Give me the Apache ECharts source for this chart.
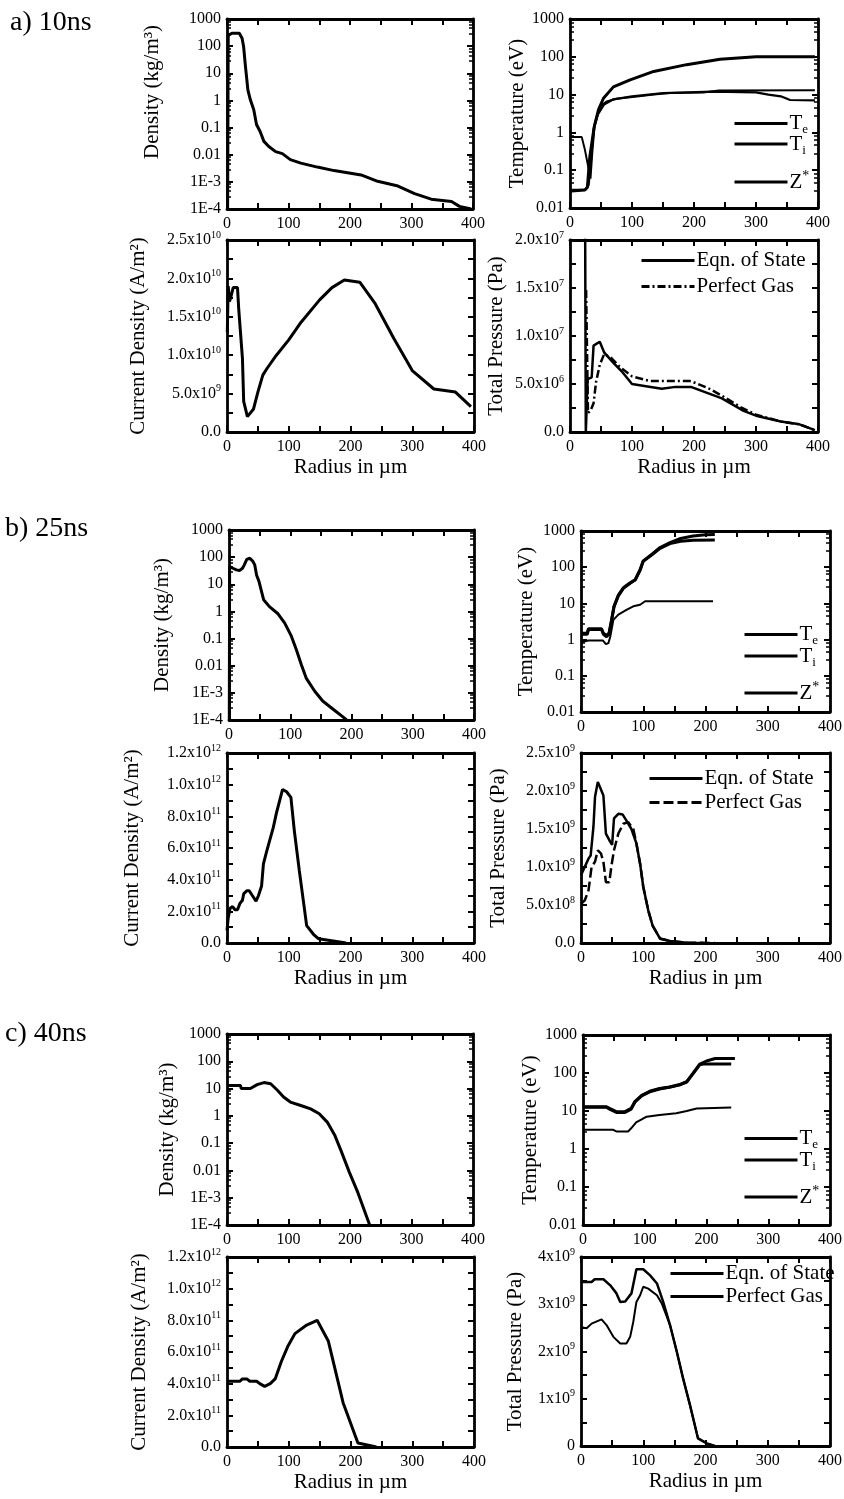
<!DOCTYPE html>
<html><head><meta charset="utf-8">
<script src="https://cdn.jsdelivr.net/npm/echarts@6/dist/echarts.min.js"></script>
<style>html,body{margin:0;padding:0;background:#fff}#c{width:844px;height:1499px}</style>
</head><body><div id="c"></div>
<script>
// ---------- tick labels ----------
const radiusTicks = ['0','100','200','300','400'];
const densityTicks = ['1E-4','1E-3','0.01','0.1','1','10','100','1000'];
const tempTicks = ['0.01','0.1','1','10','100','1000'];
const currentTicksA = ['0.0','5.0x10^9','1.0x10^10','1.5x10^10','2.0x10^10','2.5x10^10'];
const pressureTicksA = ['0.0','5.0x10^6','1.0x10^7','1.5x10^7','2.0x10^7'];
const currentTicksB = ['0.0','2.0x10^11','4.0x10^11','6.0x10^11','8.0x10^11','1.0x10^12','1.2x10^12'];
const pressureTicksB = ['0.0','5.0x10^8','1.0x10^9','1.5x10^9','2.0x10^9','2.5x10^9'];
const currentTicksC = ['0.0','2.0x10^11','4.0x10^11','6.0x10^11','8.0x10^11','1.0x10^12','1.2x10^12'];
const pressureTicksC = ['0','1x10^9','2x10^9','3x10^9','4x10^9'];
const panelLabels = ['a) 10ns','b) 25ns','c) 40ns'];

// ---------- data: [radius (um), value] ----------
// a) 10 ns
const densityA = [[1,1e-4],[2,250],[8,300],[20,300],[24.5,195],[27,97],[30,18],[34,2.4],[38,1.05],[43.5,0.45],[48,0.13],[54,0.07],[60,0.031],[68,0.02],[79,0.013],[90,0.011],[103,0.0066],[120,0.0049],[147,0.0035],[174,0.0026],[218,0.0018],[245,0.00105],[278,7e-4],[305,3.7e-4],[332,2.3e-4],[365,1.9e-4],[378,1.25e-4],[397,1e-4]];
const tempTeA = [[2,0.028],[24,0.03],[28,0.035],[32,0.23],[39,1.4],[46,4],[54,8],[70,16],[97,24.5],[135,41],[188,62],[242,86],[300,100],[395,100]];
const tempTiA = [[2,0.03],[24,0.03],[30,0.04],[33,0.12],[38,1.2],[45,3],[55,5.5],[70,7.5],[100,9],[150,11],[230,12],[300,11.5],[320,10],[340,9],[355,7.2],[395,7]];
const tempZA = [[2,0.75],[19,0.75],[24,0.35],[30,0.11],[33,0.06],[36,0.3],[40,1.7],[48,4.8],[59,6.6],[75,7.8],[108,8.9],[135,10],[161,11],[215,11.3],[240,12.8],[395,13]];
const currentA = [[0.5,1.3e10],[2,1.9e10],[4,1.7e10],[6,1.75e10],[9,1.75e10],[10,1.88e10],[17,1.88e10],[19,1.6e10],[25,0.96e10],[27,0.4e10],[30,0.3e10],[33,0.2e10],[36,0.18e10],[43,0.3e10],[50,0.52e10],[58,0.74e10],[65,0.83e10],[80,1.0e10],[100,1.2e10],[120,1.43e10],[150,1.72e10],[170,1.88e10],[190,1.98e10],[215,1.95e10],[240,1.67e10],[270,1.22e10],[300,0.8e10],[335,0.56e10],[370,0.52e10],[395,0.33e10]];
const pressEosA = [[20,3e7],[24,3e7],[25.5,0],[27.5,0],[28.5,5.5e6],[35,5.7e6],[38,9.0e6],[48,9.4e6],[55,8.3e6],[70,7.2e6],[85,6.2e6],[100,5.0e6],[120,4.8e6],[148,4.5e6],[170,4.7e6],[195,4.7e6],[220,4.1e6],[245,3.5e6],[280,2.2e6],[300,1.7e6],[340,1.1e6],[370,8e5],[395,2e5]];
const pressGasA = [[26,1.48e7],[27.5,1.48e7],[29,2.0e6],[33,2.2e6],[38,3e6],[42,5.2e6],[48,7e6],[55,8.1e6],[65,7.8e6],[80,6.8e6],[100,5.8e6],[130,5.3e6],[195,5.3e6],[225,4.5e6],[250,3.6e6],[275,2.6e6],[300,1.8e6],[340,1.1e6],[370,8e5],[395,2e5]];
// b) 25 ns
const densityB = [[0.5,1e-4],[1,45],[6.5,39],[12,34],[17,32],[22,39],[25,52],[29,83],[34,91],[39,70],[42,52],[45,22],[49,12.6],[56.5,2.7],[66,1.5],[80,0.82],[91,0.37],[102,0.12],[110,0.039],[118,0.011],[126,0.0035],[140,0.00115],[153,5e-4],[170,2.5e-4],[186,1.3e-4],[192,1e-4]];
const tempTeB = [[1,1.5],[10,1.5],[12,2.0],[33,2.0],[36,1.5],[41,1.3],[45,1.5],[49,3.5],[53,8.3],[60,17],[68,27],[79,37],[87,45],[95,87],[100,150],[114,230],[127,350],[143,480],[160,620],[180,730],[200,790],[215,800]];
const tempTiB = [[1,1.4],[10,1.4],[12,1.9],[33,1.9],[36,1.4],[41,1.2],[45,1.4],[49,3.2],[53,8],[60,16],[68,26],[79,36],[87,44],[95,82],[100,145],[114,220],[127,330],[143,450],[160,520],[180,555],[215,560]];
const tempZB = [[1,0.85],[12,0.95],[35,0.95],[40,0.75],[44,0.8],[47,1.2],[52,3.5],[60,4.9],[73,6.6],[84,8.3],[95,9.2],[103,11.5],[212,11.5]];
const currentB = [[0,0.08e12],[2,0.16e12],[5,0.22e12],[9,0.23e12],[13,0.21e12],[17,0.21e12],[21,0.25e12],[25,0.27e12],[27,0.31e12],[32,0.33e12],[36,0.33e12],[41,0.30e12],[47,0.265e12],[51,0.30e12],[56,0.36e12],[59,0.5e12],[64,0.575e12],[75,0.73e12],[80,0.82e12],[90,0.97e12],[96.5,0.955e12],[103.5,0.92e12],[109,0.71e12],[117,0.46e12],[129,0.11e12],[140,0.055e12],[148,0.027e12],[172,0.013e12],[193,0]];
const pressEosB = [[0,0.89e9],[6,1.0e9],[12,1.11e9],[15.5,1.15e9],[20,1.53e9],[22.5,1.92e9],[27,2.12e9],[33,2.0e9],[36,1.94e9],[40,1.44e9],[47,1.33e9],[50,1.29e9],[53,1.64e9],[60,1.70e9],[67,1.69e9],[73,1.61e9],[81,1.50e9],[89,1.31e9],[95,1.04e9],[100,0.74e9],[108,0.43e9],[115,0.23e9],[127,0.057e9],[143,0.026e9],[170,0.004e9],[197,0]];
const pressGasB = [[1,0.52e9],[6,0.56e9],[12,0.69e9],[17,1.0e9],[22.5,1.07e9],[27,1.22e9],[32,1.18e9],[36,1.07e9],[40,0.80e9],[45.5,0.80e9],[49,1.02e9],[53,1.22e9],[60,1.44e9],[68,1.57e9],[76,1.59e9],[84,1.5e9],[89,1.31e9],[95,1.04e9],[100,0.74e9],[108,0.43e9],[115,0.23e9],[127,0.06e9],[143,0.027e9],[170,0.004e9],[215,0]];
// c) 40 ns
const densityC = [[1,13],[22,13],[23,10],[38,10],[49,14],[60,16.6],[71,15],[82,8.7],[92,4.9],[103,3.2],[120,2.4],[136,1.8],[150,1.2],[163,0.59],[175,0.2],[186,0.049],[199,0.0085],[213,0.0015],[232,1e-4]];
const tempTeC = [[1,12.9],[38,12.9],[43,11.7],[54,9.6],[68,9.6],[78,11.7],[84,17.8],[95,26],[108,33],[124,39],[140,43],[157,50],[168,59],[178,98],[189,172],[200,207],[214,240],[246,240]];
const tempTiC = [[1,12.5],[38,12.5],[43,11.2],[54,9.2],[68,9.2],[78,11.2],[84,17],[95,25],[108,32],[124,38],[140,42],[157,49],[168,58],[178,95],[189,165],[195,172],[240,172]];
const tempZC = [[1,3.2],[49,3.2],[54,2.9],[73,2.9],[78,3.5],[86,5],[95,6],[103,7.1],[124,7.9],[151,8.7],[168,10],[184,11.7],[240,12.3]];
const currentC = [[0,0.415e12],[21,0.415e12],[25,0.43e12],[32,0.43e12],[37,0.415e12],[48,0.415e12],[53,0.40e12],[61,0.383e12],[70,0.40e12],[78,0.43e12],[88,0.54e12],[99,0.64e12],[110,0.716e12],[129,0.77e12],[146,0.80e12],[164,0.67e12],[188,0.28e12],[212,0.025e12],[242,0]];
const pressEosC = [[0,3.47e9],[17,3.47e9],[22,3.53e9],[36,3.53e9],[47,3.4e9],[57,3.23e9],[63,3.05e9],[71,3.06e9],[81,3.23e9],[89,3.74e9],[100,3.74e9],[111,3.61e9],[122,3.44e9],[132,3.05e9],[143,2.56e9],[154,1.99e9],[164,1.43e9],[175,0.87e9],[188,0.16e9],[202,0.056e9],[215,0]];
const pressGasC = [[0,2.52e9],[9,2.49e9],[17,2.59e9],[33,2.68e9],[41,2.56e9],[52,2.31e9],[63,2.17e9],[73,2.17e9],[79,2.31e9],[84,2.63e9],[89,3.05e9],[95,3.19e9],[100,3.37e9],[108,3.33e9],[122,3.19e9],[130,3.01e9],[143,2.56e9],[154,1.99e9],[164,1.43e9],[175,0.87e9],[188,0.16e9],[202,0.056e9],[215,0]];

// ---------- styling helpers ----------
const FONT = '"Liberation Serif","Times New Roman",serif';
const BLACK = '#000';
function richFmt(s){ if(s===undefined) return ''; if(s.indexOf('^')<0) return '{n|'+s+'}'; const p=s.split('^'); return '{n|'+p[0]+'}{s|'+p[1]+'}'; }
const tickRich = {n:{fontFamily:FONT,fontSize:16,color:BLACK,lineHeight:20},
                  s:{fontFamily:FONT,fontSize:10,color:BLACK,lineHeight:10,verticalAlign:'top'}};
const logFmt = (labels, off) => v => richFmt(labels[Math.round(Math.log10(v)) + off]);
const linFmt = (labels, step) => v => richFmt(labels[Math.round(v / step)]);
const RADIUS_NAME = 'Radius in µm';

const panels = [
 {g:[227,19,246,190], y:{log:true,min:1e-4,max:1000,labels:densityTicks,off:4}, name:'Density (kg/m³)', gap:64, pad:[0,0,0,44], series:[{n:'rho|a',d:densityA,w:3}]},
 {g:[570,19,248,189], y:{log:true,min:0.01,max:1000,labels:tempTicks,off:2}, name:'Temperature (eV)', gap:40, series:[{n:'Te|a',d:tempTeA,w:3},{n:'Ti|a',d:tempTiA,w:2.2},{n:'Z|a',d:tempZA,w:2}],
   legs:[{names:['Te|a','Ti|a'],left:733,top:113,gap:-3,kind:'T'},{names:['Z|a'],left:733,top:169,gap:0,kind:'T'}]},
 {g:[227,240,247,192], y:{min:0,max:2.5e10,step:5e9,labels:currentTicksA}, name:'Current Density (A/m²)', gap:78, xname:true, series:[{n:'j|a',d:currentA,w:3}]},
 {g:[570,240,248,192], y:{min:0,max:2e7,step:5e6,labels:pressureTicksA}, name:'Total Pressure (Pa)', gap:63, xname:true, series:[{n:'Eqn. of State|a',d:pressEosA,w:2.5},{n:'Perfect Gas|a',d:pressGasA,w:2.5,t:[8,3,2,3]}],
   legs:[{names:['Eqn. of State|a','Perfect Gas|a'],left:640,top:250,gap:5,kind:'P'}]},
 {g:[229,530,245,190], y:{log:true,min:1e-4,max:1000,labels:densityTicks,off:4}, name:'Density (kg/m³)', gap:56, series:[{n:'rho|b',d:densityB,w:3}]},
 {g:[581,531,249,181], y:{log:true,min:0.01,max:1000,labels:tempTicks,off:2}, name:'Temperature (eV)', gap:44, series:[{n:'Te|b',d:tempTeB,w:3},{n:'Ti|b',d:tempTiB,w:3},{n:'Z|b',d:tempZB,w:2}],
   legs:[{names:['Te|b','Ti|b'],left:743,top:624,gap:-2,kind:'T'},{names:['Z|b'],left:743,top:680,gap:0,kind:'T'}]},
 {g:[227,753,247,190], y:{min:0,max:1.2e12,step:2e11,labels:currentTicksB}, name:'Current Density (A/m²)', gap:84, xname:true, series:[{n:'j|b',d:currentB,w:3}]},
 {g:[581,753,249,190], y:{min:0,max:2.5e9,step:5e8,labels:pressureTicksB}, name:'Total Pressure (Pa)', gap:72, xname:true, series:[{n:'Eqn. of State|b',d:pressEosB,w:2.5},{n:'Perfect Gas|b',d:pressGasB,w:2.5,t:[10,4]}],
   legs:[{names:['Eqn. of State|b','Perfect Gas|b'],left:648,top:768,gap:3,kind:'P'}]},
 {g:[227,1034,246,191], y:{log:true,min:1e-4,max:1000,labels:densityTicks,off:4}, name:'Density (kg/m³)', gap:49, series:[{n:'rho|c',d:densityC,w:3}]},
 {g:[583,1035,247,190], y:{log:true,min:0.01,max:1000,labels:tempTicks,off:2}, name:'Temperature (eV)', gap:41, series:[{n:'Te|c',d:tempTeC,w:3},{n:'Ti|c',d:tempTiC,w:3},{n:'Z|c',d:tempZC,w:2}],
   legs:[{names:['Te|c','Ti|c'],left:743,top:1128,gap:-2,kind:'T'},{names:['Z|c'],left:743,top:1184,gap:0,kind:'T'}]},
 {g:[227,1257,247,190], y:{min:0,max:1.2e12,step:2e11,labels:currentTicksC}, name:'Current Density (A/m²)', gap:77, xname:true, series:[{n:'j|c',d:currentC,w:3}]},
 {g:[581,1257,249,189], y:{min:0,max:4e9,step:1e9,labels:pressureTicksC}, name:'Total Pressure (Pa)', gap:55, xname:true, series:[{n:'Eqn. of State|c',d:pressEosC,w:2.5},{n:'Perfect Gas|c',d:pressGasC,w:2}],
   legs:[{names:['Eqn. of State|c','Perfect Gas|c'],left:669,top:1263,gap:2,kind:'P'}]}
];

const axisLine = {show:true,onZero:false,lineStyle:{color:BLACK,width:2.8}};
const tick = {show:true,inside:true,length:6,lineStyle:{color:BLACK,width:2}};
const grids=[], xAxes=[], yAxes=[], series=[], legends=[];
panels.forEach((p,i)=>{
  grids.push({left:p.g[0],top:p.g[1],width:p.g[2],height:p.g[3],containLabel:false,outerBoundsMode:'none'});
  const xBase = {type:'value',gridIndex:i,min:0,max:400,interval:100,axisLine,axisTick:tick,
    minorTick:{show:true,splitNumber:2,length:6,lineStyle:{color:BLACK,width:2}},splitLine:{show:false},minorSplitLine:{show:false}};
  xAxes.push(Object.assign({},xBase,{position:'bottom',
    axisLabel:{margin:5,formatter:v=>richFmt(radiusTicks[Math.round(v/100)]),rich:tickRich},
    name:p.xname?RADIUS_NAME:'',nameLocation:'middle',nameGap:25,
    nameTextStyle:{fontFamily:FONT,fontSize:21,color:BLACK}}));
  xAxes.push(Object.assign({},xBase,{position:'top',axisLabel:{show:false}}));
  let yBase;
  if(p.y.log){
    yBase={type:'log',logBase:10,gridIndex:i,min:p.y.min,max:p.y.max,axisLine,axisTick:tick,
      minorTick:{show:true,splitNumber:5,length:4,lineStyle:{color:BLACK,width:1.5}},splitLine:{show:false},minorSplitLine:{show:false}};
  } else {
    yBase={type:'value',gridIndex:i,min:p.y.min,max:p.y.max,interval:p.y.step,axisLine,axisTick:tick,
      minorTick:{show:true,splitNumber:2,length:6,lineStyle:{color:BLACK,width:2}},splitLine:{show:false},minorSplitLine:{show:false}};
  }
  const fmt = p.y.log ? logFmt(p.y.labels,p.y.off) : linFmt(p.y.labels,p.y.step);
  yAxes.push(Object.assign({},yBase,{position:'left',
    axisLabel:{margin:6,formatter:fmt,rich:tickRich},
    name:p.name,nameLocation:'middle',nameGap:p.gap,
    nameTextStyle:{fontFamily:FONT,fontSize:21,color:BLACK,padding:p.pad||0}}));
  yAxes.push(Object.assign({},yBase,{position:'right',axisLabel:{show:false}}));
  p.series.forEach(s=>{
    series.push({type:'line',name:s.n,data:s.d,xAxisIndex:2*i,yAxisIndex:2*i,
      symbol:'none',showSymbol:false,silent:true,animation:false,clip:true,
      lineStyle:{color:BLACK,width:s.w,type:s.t||'solid'},itemStyle:{color:BLACK}});
  });
  (p.legs||[]).forEach(L=>{
    const isT = L.kind==='T';
    legends.push({show:true,orient:'vertical',left:L.left,top:L.top,
      itemWidth:53,itemHeight:14,itemGap:L.gap,selectedMode:false,padding:0,
      itemStyle:{opacity:0,color:'rgba(0,0,0,0)',borderColor:'rgba(0,0,0,0)',borderWidth:0},
      lineStyle:{width:3},
      data:L.names,
      formatter:name=>{
        const k=name.split('|')[0];
        if(!isT) return '{m|'+k+'}';
        if(k==='Te') return '{m|T}{sub|e}';
        if(k==='Ti') return '{m|T}{sub|i}';
        return '{m|Z}{sup|*}';
      },
      textStyle:{color:BLACK,padding:[0,0,0,-3],rich:{
        m:{fontFamily:FONT,fontSize:21,color:BLACK,lineHeight:isT?26:24},
        sub:{fontFamily:FONT,fontSize:13,color:BLACK,lineHeight:13,verticalAlign:'bottom'},
        sup:{fontFamily:FONT,fontSize:14,color:BLACK,lineHeight:14,verticalAlign:'top'}}}
    });
  });
});

const titles = [
  {text:panelLabels[0],left:10,top:9},
  {text:panelLabels[1],left:5,top:515},
  {text:panelLabels[2],left:5,top:1020}
].map(t=>Object.assign(t,{padding:0,textStyle:{fontFamily:FONT,fontSize:28,fontWeight:'normal',color:BLACK}}));

const chart = echarts.init(document.getElementById('c'),null,{renderer:'canvas'});
chart.setOption({
  backgroundColor:'#fff',
  animation:false,
  title:titles,
  grid:grids,
  xAxis:xAxes,
  yAxis:yAxes,
  legend:legends,
  series:series
});
</script>
</body></html>
